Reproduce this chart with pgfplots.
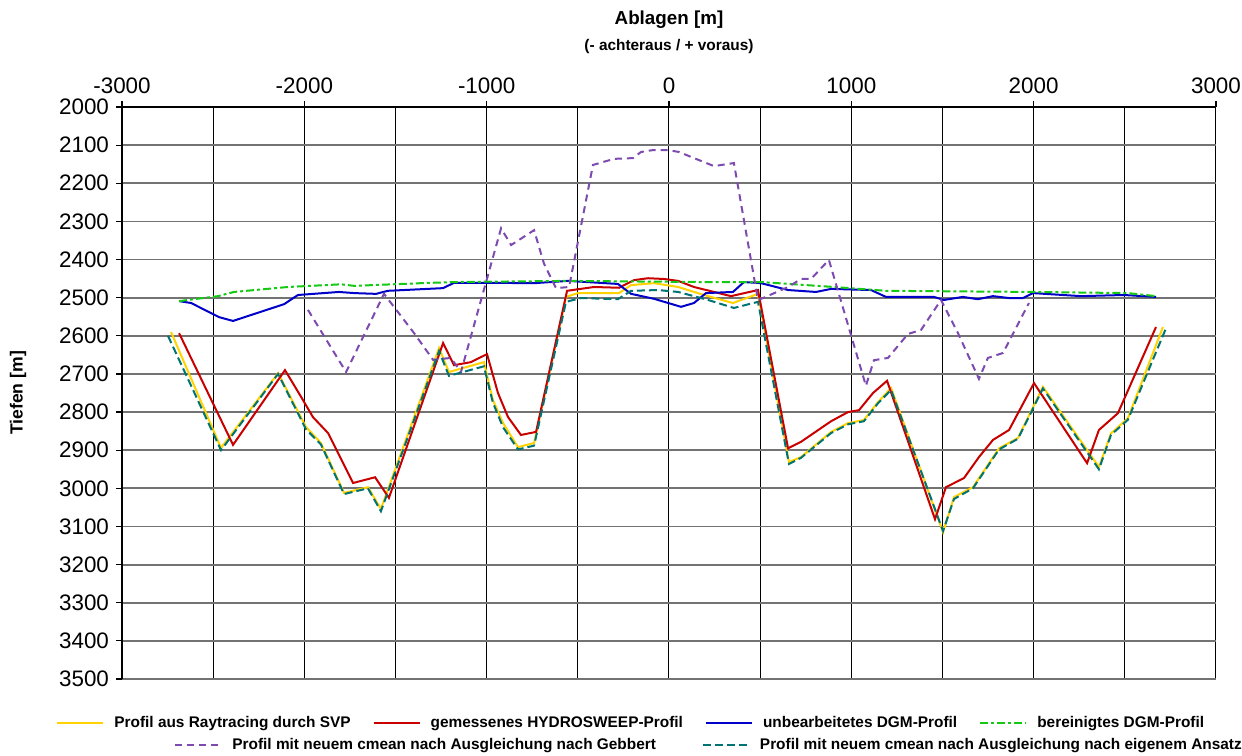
\documentclass[border=0pt]{standalone}
\usepackage{pgfplots}
\pgfplotsset{compat=1.18}
\usepackage{fontspec}
\setmainfont{Liberation Sans}

\definecolor{cYellow}{RGB}{255,210,0}
\definecolor{cRed}{RGB}{200,0,0}
\definecolor{cBlue}{RGB}{0,0,200}
\definecolor{cGreen}{RGB}{20,200,20}
\definecolor{cPurple}{RGB}{125,75,175}
\definecolor{cTeal}{RGB}{0,115,115}

\pgfplotsset{
  ser/.style={line width=1pt},
  legimg/.style={legend image code/.code={\draw[##1] (0pt,0pt) -- (23pt,0pt);}},
}

\begin{document}
\begin{tikzpicture}
\begin{axis}[
  at={(0,0)}, anchor=south west,
  width=547pt, height=286pt, scale only axis,
  xmin=-3000, xmax=3000, ymin=2000, ymax=3500,
  y dir=reverse, clip=false,
  axis x line*=top, axis y line*=left,
  axis line style={black, line width=0.7pt, -},
  xtick={-3000,-2000,...,3000},
  minor xtick={-2500,-1500,...,2500},
  ytick={2000,2100,...,3500},
  tick align=outside, major tick length=3pt, minor tick length=0pt,
  tick style={black, line width=0.6pt},
  xmajorgrids, xminorgrids, ymajorgrids,
  major x grid style={black, line width=0.5pt},
  minor x grid style={black, line width=0.5pt},
  major y grid style={black!55, line width=0.9pt},
  /pgf/number format/assume math mode=true,
  /pgf/number format/1000 sep={},
  ticklabel style={font=\fontsize{11.2}{13}\selectfont},
  ylabel={\textbf{Tiefen [m]}},
  ylabel style={at={(axis description cs:-0.095,0.5)}, anchor=center, font=\fontsize{8.8}{10}\selectfont},
  legimg,
  legend columns=4,
  legend cell align=left,
  legend style={at={(0,0)}, anchor=west, xshift=-33pt, yshift=-22pt, draw=none, fill=none, inner sep=0pt,
    font=\fontsize{7.7}{9}\selectfont\bfseries,
    /tikz/every odd column/.append style={column sep=3pt},
    /tikz/every even column/.append style={column sep=9pt}},
]
% Profil aus Raytracing durch SVP
\addplot[ser, cYellow] coordinates {
(-2731,2590) (-2457,2894) (-2144,2698) (-1991,2839) (-1909,2881) (-1782,3012)
(-1651,2997) (-1580,3054) (-1261,2632) (-1207,2695) (-1015,2669) (-966,2768)
(-910,2829) (-828,2892) (-740,2881) (-565,2498) (-499,2488) (-274,2488)
(-208,2467) (-82,2462) (50,2472) (192,2493) (351,2514) (488,2490)
(658,2931) (724,2918) (889,2852) (982,2829) (1069,2821) (1146,2774)
(1218,2737) (1503,3115) (1563,3023) (1667,2997) (1810,2895) (1914,2868)
(2051,2734) (2358,2944) (2424,2856) (2517,2816) (2709,2577)
};
\addlegendentry{Profil aus Raytracing durch SVP}
% gemessenes HYDROSWEEP-Profil
\addplot[ser, cRed] coordinates {
(-2687,2593) (-2391,2886) (-2106,2690) (-2018,2760) (-1953,2813) (-1870,2855)
(-1733,2986) (-1612,2971) (-1536,3025) (-1239,2619) (-1179,2677) (-1086,2669)
(-998,2648) (-938,2750) (-883,2813) (-812,2860) (-729,2852) (-559,2482)
(-411,2472) (-274,2474) (-192,2454) (-115,2449) (-27,2451) (50,2456)
(137,2472) (340,2496) (488,2480) (653,2895) (724,2878) (889,2824)
(982,2800) (1042,2795) (1119,2750) (1196,2718) (1459,3081) (1519,2997)
(1618,2973) (1700,2918) (1777,2873) (1865,2847) (2002,2724) (2293,2934)
(2358,2847) (2462,2803) (2671,2577)
};
\addlegendentry{gemessenes HYDROSWEEP-Profil}
% unbearbeitetes DGM-Profil
\addplot[ser, cBlue] coordinates {
(-2687,2509) (-2621,2514) (-2468,2551) (-2391,2561) (-2111,2517) (-2035,2493)
(-1810,2485) (-1727,2488) (-1607,2490) (-1541,2482) (-1239,2475) (-1179,2461)
(-993,2461) (-740,2462) (-554,2456) (-280,2464) (-208,2490) (-82,2503)
(66,2524) (137,2514) (203,2488) (351,2485) (411,2459) (505,2462)
(653,2480) (806,2485) (889,2477) (1108,2480) (1190,2498) (1453,2498)
(1508,2506) (1612,2498) (1694,2504) (1777,2496) (1865,2501) (1941,2501)
(1996,2488) (2260,2496) (2495,2493) (2671,2498)
};
\addlegendentry{unbearbeitetes DGM-Profil}
% bereinigtes DGM-Profil
\addplot[ser, cGreen, dash pattern=on 4pt off 1.5pt on 1.5pt off 1.5pt] coordinates {
(-2687,2509) (-2473,2496) (-2386,2485) (-2090,2472) (-1799,2465) (-1727,2469)
(-1360,2462) (-1179,2459) (-554,2456) (175,2459) (505,2459) (905,2472)
(1190,2482) (2002,2485) (2517,2488) (2671,2496)
};
\addlegendentry{bereinigtes DGM-Profil}
% Profil mit neuem cmean nach Ausgleichung nach Gebbert
\addplot[ser, cPurple, dash pattern=on 3.5pt off 2.5pt, forget plot] coordinates {
(-1980,2532) (-1771,2695) (-1563,2490) (-1398,2593) (-1294,2663) (-1196,2658)
(-1141,2695) (-921,2318) (-866,2362) (-740,2323) (-686,2410) (-620,2475)
(-548,2472) (-417,2152) (-302,2136) (-197,2134) (-154,2118) (-88,2113)
(-5,2113) (55,2118) (137,2134) (247,2155) (356,2147) (488,2506)
(516,2501) (653,2472) (724,2451) (779,2451) (877,2401) (1080,2731)
(1124,2664) (1201,2658) (1311,2595) (1382,2585) (1492,2506) (1585,2593)
(1700,2713) (1749,2658) (1832,2645) (1974,2514)
};
% Profil mit neuem cmean nach Ausgleichung nach eigenem Ansatz
\addplot[ser, cTeal, dash pattern=on 4pt off 2pt, forget plot] coordinates {
(-2748,2600) (-2457,2900) (-2144,2700) (-1991,2845) (-1909,2885) (-1782,3015)
(-1651,3000) (-1580,3060) (-1261,2640) (-1207,2705) (-1015,2680) (-966,2775)
(-910,2840) (-828,2898) (-740,2888) (-565,2511) (-483,2501) (-280,2504)
(-208,2482) (-60,2480) (50,2485) (175,2501) (214,2506) (356,2527)
(488,2511) (658,2936) (724,2920) (889,2855) (982,2832) (1069,2824)
(1146,2777) (1218,2742) (1503,3112) (1563,3028) (1667,3000) (1810,2898)
(1914,2870) (2051,2738) (2358,2950) (2424,2860) (2517,2820) (2726,2580)
};
\node[font=\fontsize{9.4}{11}\selectfont\bfseries] at (axis description cs:0.5,1) [yshift=43.5pt] {Ablagen [m]};
\node[font=\fontsize{7.7}{9}\selectfont\bfseries] at (axis description cs:0.5,1) [yshift=30pt] {(- achteraus / + voraus)};
\end{axis}
\begin{axis}[
  at={(0,0)}, anchor=south west,
  width=547pt, height=286pt, scale only axis,
  hide axis, xmin=0, xmax=1, ymin=0, ymax=1,
  legimg,
  legend columns=2,
  legend cell align=left,
  legend style={at={(0,0)}, anchor=west, xshift=26pt, yshift=-33pt, draw=none, fill=none, inner sep=0pt,
    font=\fontsize{7.7}{9}\selectfont\bfseries,
    /tikz/every odd column/.append style={column sep=3pt},
    /tikz/every even column/.append style={column sep=21pt}},
]
\addlegendimage{ser, cPurple, dash pattern=on 3.5pt off 2.5pt}
\addlegendentry{Profil mit neuem cmean nach Ausgleichung nach Gebbert}
\addlegendimage{ser, cTeal, dash pattern=on 4pt off 2pt}
\addlegendentry{Profil mit neuem cmean nach Ausgleichung nach eigenem Ansatz}
\end{axis}
\pgfresetboundingbox
\path[use as bounding box] (-61pt,-38pt) rectangle (560pt,339.5pt);
\end{tikzpicture}
\end{document}
